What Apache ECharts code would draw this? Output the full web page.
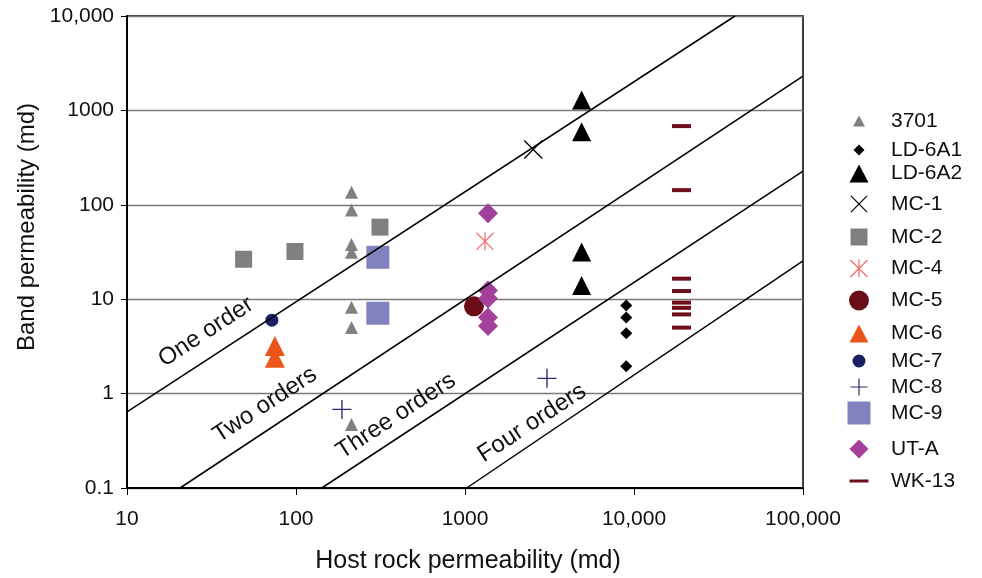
<!DOCTYPE html>
<html>
<head>
<meta charset="utf-8">
<script src="https://cdn.jsdelivr.net/npm/echarts@6/dist/echarts.min.js"></script>
<style>
html,body{margin:0;padding:0;background:#fff;}
#chart{width:982px;height:578px;}
</style>
</head>
<body>
<div id="chart"></div>
<script>
// ---- Data ----
const xTickValues = [10, 100, 1000, 10000, 100000];
const xTickLabels = ['10', '100', '1000', '10,000', '100,000'];
const yTickValues = [0.1, 1, 10, 100, 1000, 10000];
const yTickLabels = ['0.1', '1', '10', '100', '1000', '10,000'];

const seriesNames = ['3701', 'LD-6A1', 'LD-6A2', 'MC-1', 'MC-2', 'MC-4', 'MC-5', 'MC-6', 'MC-7', 'MC-8', 'MC-9', 'UT-A', 'WK-13'];

const s3701_x = [213, 213, 213, 213, 213, 213, 213];
const s3701_y = [136, 88, 38, 31.5, 8.2, 5.0, 0.47];
const ld6a1_x = [9000, 9000, 9000, 9000];
const ld6a1_y = [8.6, 6.4, 4.35, 1.95];
const ld6a2_x = [4900, 4900, 4900, 4900];
const ld6a2_y = [1290, 593, 31.6, 14];
const mc1_x = [2535];
const mc1_y = [385];
const mc2_x = [49, 98.6, 314];
const mc2_y = [26.5, 32, 58];
const mc4_x = [1313];
const mc4_y = [41];
const mc5_x = [1130];
const mc5_y = [8.4];
const mc6_x = [75, 75];
const mc6_y = [3.2, 2.4];
const mc7_x = [72];
const mc7_y = [6.0];
const mc8_x = [187, 3055];
const mc8_y = [0.68, 1.45];
const mc9_x = [305, 305];
const mc9_y = [27.8, 7.1];
const uta_x = [1368, 1368, 1368, 1368, 1368];
const uta_y = [81.5, 12.4, 10.2, 6.4, 5.2];
const wk13_x = [19100, 19100, 19100, 19100, 19100, 19100, 19100, 19100];
const wk13_y = [682, 143, 16.5, 12.2, 9.2, 8.1, 6.9, 5.0];

// Reference lines (endpoints where they meet the plot frame)
const lineNames = ['One order', 'Two orders', 'Three orders', 'Four orders'];
const line1_x = [10, 39600];
const line1_y = [0.64, 10000];
const line2_x = [20.6, 100000];
const line2_y = [0.1, 2310];
const line3_x = [142, 100000];
const line3_y = [0.1, 227];
const line4_x = [1023, 100000];
const line4_y = [0.1, 25.4];

// ---- Styles ----
const FONT = '"Liberation Sans", Arial, Helvetica, sans-serif';
const PATH_X = 'path://M0,1L1,0L20,19L19,20ZM19,0L20,1L1,20L0,19Z';
const PATH_STAR = 'path://M0,1L1,0L20,19L19,20ZM19,0L20,1L1,20L0,19ZM9.3,0L10.7,0L10.7,20L9.3,20Z';
const PATH_PLUS = 'path://M9.3,0L10.7,0L10.7,9.3L20,9.3L20,10.7L10.7,10.7L10.7,20L9.3,20L9.3,10.7L0,10.7L0,9.3L9.3,9.3Z';

const zip = (xs, ys) => xs.map((x, i) => [x, ys[i]]);

// lw/lh: legend icon width/height
const seriesDefs = [
  { name: '3701', x: s3701_x, y: s3701_y, symbol: 'triangle', size: 13, color: '#808080', lw: 12, lh: 11 },
  { name: 'LD-6A1', x: ld6a1_x, y: ld6a1_y, symbol: 'diamond', size: 12, color: '#000000', lw: 11, lh: 11 },
  { name: 'LD-6A2', x: ld6a2_x, y: ld6a2_y, symbol: 'triangle', size: 19, color: '#000000', lw: 19, lh: 18 },
  { name: 'MC-1', x: mc1_x, y: mc1_y, symbol: PATH_X, size: 19, color: '#000000', lw: 17, lh: 17 },
  { name: 'MC-2', x: mc2_x, y: mc2_y, symbol: 'rect', size: 17, color: '#808080', lw: 17, lh: 17 },
  { name: 'MC-4', x: mc4_x, y: mc4_y, symbol: PATH_STAR, size: 18, color: '#f56d6d', lw: 18, lh: 18 },
  { name: 'MC-5', x: mc5_x, y: mc5_y, symbol: 'circle', size: 20, color: '#6b0d16', lw: 20, lh: 20 },
  { name: 'MC-6', x: mc6_x, y: mc6_y, symbol: 'triangle', size: 20, color: '#ea5519', lw: 19, lh: 18 },
  { name: 'MC-7', x: mc7_x, y: mc7_y, symbol: 'circle', size: 13, color: '#1d2163', lw: 13, lh: 13 },
  { name: 'MC-8', x: mc8_x, y: mc8_y, symbol: PATH_PLUS, size: 19, color: '#28286a', lw: 17, lh: 17 },
  { name: 'MC-9', x: mc9_x, y: mc9_y, symbol: 'rect', size: 23, color: '#8282c0', lw: 23, lh: 23 },
  { name: 'UT-A', x: uta_x, y: uta_y, symbol: 'diamond', size: 20, color: '#a2409b', lw: 19, lh: 19 },
  { name: 'WK-13', x: wk13_x, y: wk13_y, symbol: 'rect', size: [19, 4], color: '#6e0f1a', lw: 19, lh: 3 }
];

const legendCenters = [116, 145, 172, 202, 235, 267, 300, 332, 357, 385, 413, 448, 472];
const legendIconCenterX = 859;
const legendTextX = 891;

const scatterSeries = seriesDefs.map(d => ({
  name: d.name,
  type: 'scatter',
  data: zip(d.x, d.y),
  symbol: d.symbol,
  symbolSize: d.size,
  symbolKeepAspect: false,
  itemStyle: { color: d.color, opacity: 1 },
  z: 2,
  emphasis: { disabled: true },
  animation: false
}));

const refLines = [[line1_x, line1_y], [line2_x, line2_y], [line3_x, line3_y], [line4_x, line4_y]];
const lineSeries = refLines.map((l, i) => ({
  name: lineNames[i],
  type: 'line',
  data: zip(l[0], l[1]),
  showSymbol: false,
  symbol: 'none',
  lineStyle: { color: '#000', width: 1.5 },
  z: 3,
  silent: true,
  animation: false
}));

const legends = seriesDefs.map((d, i) => ({
  data: [{ name: d.name, icon: d.symbol }],
  orient: 'vertical',
  left: legendIconCenterX - d.lw / 2,
  top: legendCenters[i] - d.lh / 2,
  itemWidth: d.lw,
  itemHeight: d.lh,
  itemGap: 0,
  padding: 0,
  selectedMode: false,
  textStyle: {
    fontFamily: FONT, fontSize: 21, color: '#111',
    padding: [0, 0, 0, Math.max(0, legendTextX - (legendIconCenterX + d.lw / 2 + 5))]
  }
}));

const labelFont = '24px ' + FONT;
const lineLabelPos = [[206, 332], [265, 405], [396, 416], [532, 423]];
const rot = 33.2 * Math.PI / 180;

const option = {
  backgroundColor: '#fff',
  animation: false,
  grid: { left: 127, right: 179, top: 16, bottom: 90, show: true, borderColor: '#000', borderWidth: 1.5, containLabel: false },
  xAxis: {
    type: 'log', logBase: 10, min: 10, max: 100000,
    axisLine: { show: true, lineStyle: { color: '#000', width: 2 } },
    axisTick: { show: true, inside: false, length: 7, lineStyle: { color: '#000', width: 1 } },
    minorTick: { show: false },
    splitLine: { show: false },
    axisLabel: {
      margin: 21, fontSize: 21, fontFamily: FONT, color: '#111',
      formatter: v => { const i = Math.round(Math.log10(v)) - 1; return xTickLabels[i] !== undefined ? xTickLabels[i] : ''; }
    }
  },
  yAxis: {
    type: 'log', logBase: 10, min: 0.1, max: 10000,
    axisLine: { show: true, lineStyle: { color: '#000', width: 2 } },
    axisTick: { show: true, inside: false, length: 6, lineStyle: { color: '#000', width: 1 } },
    splitLine: { show: true, lineStyle: { color: '#7a7a7a', width: 1.3 } },
    axisLabel: {
      margin: 13, fontSize: 21, fontFamily: FONT, color: '#111',
      formatter: v => { const i = Math.round(Math.log10(v)) + 1; return yTickLabels[i] !== undefined ? yTickLabels[i] : ''; }
    }
  },
  legend: legends,
  series: scatterSeries.concat(lineSeries),
  graphic: [
    { type: 'text', x: 468, y: 561, style: { text: 'Host rock permeability (md)', font: '25px ' + FONT, fill: '#111', align: 'center', verticalAlign: 'middle' } },
    { type: 'text', x: 27, y: 227, rotation: Math.PI / 2, style: { text: 'Band permeability (md)', font: '24px ' + FONT, fill: '#111', align: 'center', verticalAlign: 'middle' } }
  ].concat(lineNames.map((t, i) => ({
    type: 'text', x: lineLabelPos[i][0], y: lineLabelPos[i][1], rotation: rot, z: 10,
    style: { text: t, font: labelFont, fill: '#111', align: 'center', verticalAlign: 'middle' }
  })))
};

const chart = echarts.init(document.getElementById('chart'), null, { renderer: 'canvas' });
chart.setOption(option);
</script>
</body>
</html>
